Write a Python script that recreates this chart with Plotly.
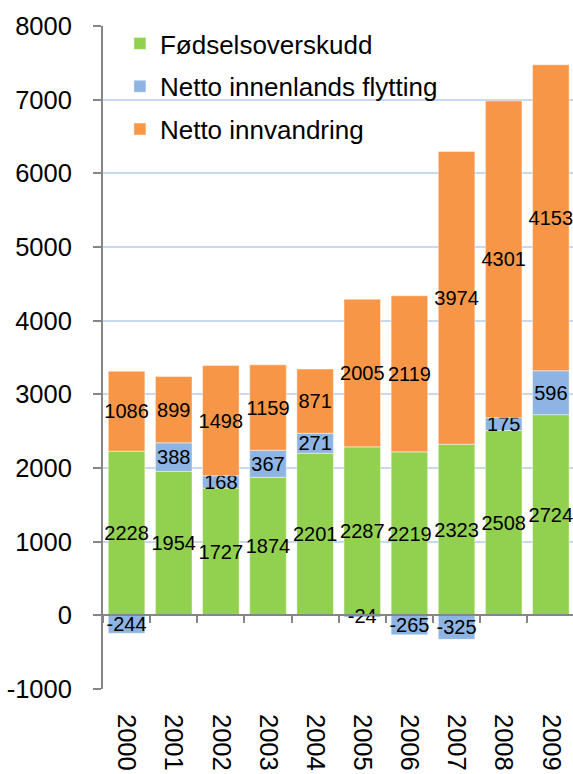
import plotly.graph_objects as go

years = ["2000", "2001", "2002", "2003", "2004", "2005", "2006", "2007", "2008", "2009"]
fodsel = [2228, 1954, 1727, 1874, 2201, 2287, 2219, 2323, 2508, 2724]
innenlands = [-244, 388, 168, 367, 271, -24, -265, -325, 175, 596]
innvandring = [1086, 899, 1498, 1159, 871, 2005, 2119, 3974, 4301, 4153]
y_ticks = [-1000, 0, 1000, 2000, 3000, 4000, 5000, 6000, 7000, 8000]
y_ticktext = ["-1000", "0", "1000", "2000", "3000", "4000", "5000", "6000", "7000", "8000"]

series = [
    ("Fødselsoverskudd", fodsel, "#92d050", "g1"),
    ("Netto innenlands flytting", innenlands, "#8db4e2", "g2"),
    ("Netto innvandring", innvandring, "#f79646", "g3"),
]

FONT = "Liberation Sans, Arial, sans-serif"

fig = go.Figure()
for name, vals, color, grp in series:
    fig.add_trace(go.Bar(
        x=years, y=vals, name=name, legendgroup=grp,
        marker=dict(color=color, line=dict(color="rgba(255,255,255,0.45)", width=1)),
        text=[str(v) for v in vals],
        textposition="inside", insidetextanchor="middle", textangle=0,
        constraintext="none",
        textfont=dict(family=FONT, size=20, color="black"),
        insidetextfont=dict(family=FONT, size=20, color="black"),
        cliponaxis=False,
    ))

# invisible trace to host the zero-line axis with boundary ticks
fig.add_trace(go.Scatter(x=years, y=[None] * len(years), xaxis="x2", yaxis="y",
                         mode="markers", showlegend=False, hoverinfo="skip"))

xr = [-0.5, 9.47]
fig.update_layout(
    width=573, height=774,
    margin=dict(l=103, r=0, t=26, b=85, autoexpand=False),
    paper_bgcolor="white", plot_bgcolor="white",
    barmode="relative", bargap=0.224,
    font=dict(family=FONT, color="black"),
    uniformtext=dict(mode="show", minsize=20),
    showlegend=True,
    legend=dict(x=0.036, y=1.009, xanchor="left", yanchor="top",
                traceorder="grouped", tracegroupgap=6,
                font=dict(family=FONT, size=26, color="black"),
                bgcolor="rgba(0,0,0,0)", itemwidth=30),
    xaxis=dict(type="category", categoryorder="array", categoryarray=years,
               range=xr, showline=False, showgrid=False, zeroline=False,
               ticks="", tickangle=90, ticklabelstandoff=24, automargin=False,
               tickfont=dict(family=FONT, size=25.5, color="black")),
    xaxis2=dict(type="category", categoryorder="array", categoryarray=years,
                overlaying="x", anchor="free", position=1000 / 9000, side="bottom",
                range=xr, showline=True, linecolor="#868686", linewidth=2,
                ticks="outside", tickson="boundaries", ticklen=7, tickwidth=1.5,
                tickcolor="#868686", showticklabels=False, showgrid=False,
                zeroline=False, automargin=False),
    yaxis=dict(range=[-1000, 8000], tickvals=y_ticks, ticktext=y_ticktext,
               showline=True, linecolor="#868686", linewidth=2,
               ticks="outside", ticklen=8, tickwidth=1.5, tickcolor="#868686",
               showgrid=True, gridcolor="#c6d9f1", gridwidth=1.5,
               zeroline=False, ticklabelstandoff=16, automargin=False,
               tickfont=dict(family=FONT, size=25.5, color="black")),
)

fig.write_html(
    "out.html",
    config={"displayModeBar": False},
    post_script="document.body.style.margin='0';document.body.style.overflow='hidden';",
)
